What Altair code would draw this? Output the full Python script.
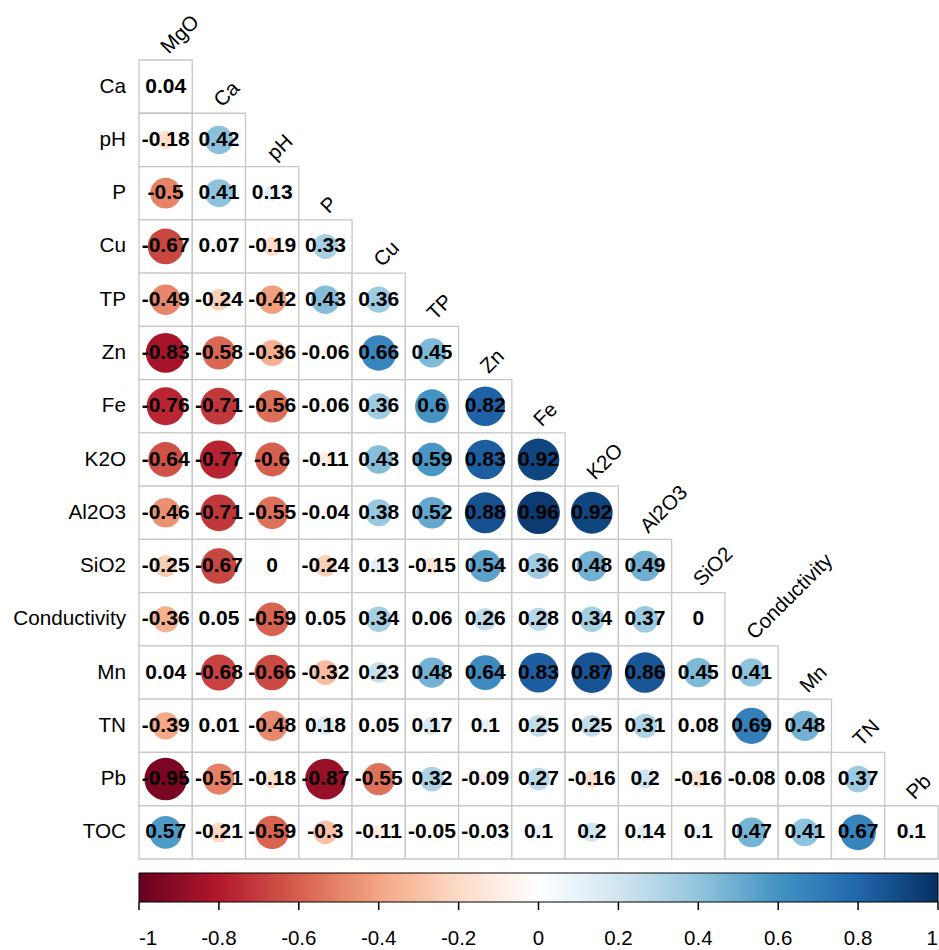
import altair as alt
import pandas as pd

# Variables of the lower-triangle correlation matrix
row_names = ["Ca", "pH", "P", "Cu", "TP", "Zn", "Fe", "K2O", "Al2O3", "SiO2",
             "Conductivity", "Mn", "TN", "Pb", "TOC"]
col_names = ["MgO", "Ca", "pH", "P", "Cu", "TP", "Zn", "Fe", "K2O", "Al2O3",
             "SiO2", "Conductivity", "Mn", "TN", "Pb"]

# Pearson coefficients, one list per row (columns in col_names order)
r_Ca = [0.04]
r_pH = [-0.18, 0.42]
r_P = [-0.5, 0.41, 0.13]
r_Cu = [-0.67, 0.07, -0.19, 0.33]
r_TP = [-0.49, -0.24, -0.42, 0.43, 0.36]
r_Zn = [-0.83, -0.58, -0.36, -0.06, 0.66, 0.45]
r_Fe = [-0.76, -0.71, -0.56, -0.06, 0.36, 0.6, 0.82]
r_K2O = [-0.64, -0.77, -0.6, -0.11, 0.43, 0.59, 0.83, 0.92]
r_Al2O3 = [-0.46, -0.71, -0.55, -0.04, 0.38, 0.52, 0.88, 0.96, 0.92]
r_SiO2 = [-0.25, -0.67, 0, -0.24, 0.13, -0.15, 0.54, 0.36, 0.48, 0.49]
r_Conductivity = [-0.36, 0.05, -0.59, 0.05, 0.34, 0.06, 0.26, 0.28, 0.34, 0.37, 0]
r_Mn = [0.04, -0.68, -0.66, -0.32, 0.23, 0.48, 0.64, 0.83, 0.87, 0.86, 0.45, 0.41]
r_TN = [-0.39, 0.01, -0.48, 0.18, 0.05, 0.17, 0.1, 0.25, 0.25, 0.31, 0.08, 0.69, 0.48]
r_Pb = [-0.95, -0.51, -0.18, -0.87, -0.55, 0.32, -0.09, 0.27, -0.16, 0.2, -0.16,
        -0.08, 0.08, 0.37]
r_TOC = [0.57, -0.21, -0.59, -0.3, -0.11, -0.05, -0.03, 0.1, 0.2, 0.14, 0.1, 0.47,
         0.41, 0.67, 0.1]

matrix_rows = [r_Ca, r_pH, r_P, r_Cu, r_TP, r_Zn, r_Fe, r_K2O, r_Al2O3, r_SiO2,
               r_Conductivity, r_Mn, r_TN, r_Pb, r_TOC]

# Colour bar tick values
bar_ticks = [-1, -0.8, -0.6, -0.4, -0.2, 0, 0.2, 0.4, 0.6, 0.8, 1]

# RdBu palette (corrplot style, white centre)
palette = ["#67001F", "#B2182B", "#D6604D", "#F4A582", "#FDDBC7", "#FFFFFF",
           "#D1E5F0", "#92C5DE", "#4393C3", "#2166AC", "#053061"]

FONT = "Liberation Sans"

cells = []
for ri, (rname, vals) in enumerate(zip(row_names, matrix_rows)):
    for ci, v in enumerate(vals):
        cells.append({"row": rname, "col": col_names[ci], "ri": ri, "ci": ci,
                      "r": v, "absr": abs(v), "label": f"{v:g}"})
cells_df = pd.DataFrame(cells)
rows_df = pd.DataFrame({"name": row_names, "ri": list(range(len(row_names)))})
cols_df = pd.DataFrame({"name": col_names, "ci": list(range(len(col_names)))})
ticks_df = pd.DataFrame({"t": bar_ticks})

n = len(row_names)
xs = alt.Scale(domain=[0, n], nice=False, zero=False)
ys = alt.Scale(domain=[0, n], nice=False, zero=False, reverse=True)
color_scale = alt.Scale(domain=bar_ticks, range=palette, interpolate="rgb")

base = alt.Chart(cells_df).transform_calculate(
    x0="datum.ci", x1="datum.ci + 1", y0="datum.ri", y1="datum.ri + 1",
    cx="datum.ci + 0.5", cy="datum.ri + 0.5",
)

grid = base.mark_rect(fill="white", stroke="#c8c8c8", strokeWidth=1.3).encode(
    x=alt.X("x0:Q", scale=xs, axis=None),
    x2="x1:Q",
    y=alt.Y("y0:Q", scale=ys, axis=None),
    y2="y1:Q",
)

# circle area proportional to |r|; nearly a full cell-width circle at |r| = 1
circles = base.mark_circle(opacity=1).encode(
    x=alt.X("cx:Q", scale=xs, axis=None),
    y=alt.Y("cy:Q", scale=ys, axis=None),
    size=alt.Size("absr:Q", scale=alt.Scale(domain=[0, 1], range=[0, 1900]), legend=None),
    color=alt.Color(
        "r:Q",
        scale=color_scale,
        legend=alt.Legend(
            orient="none", legendX=0, legendY=813, direction="horizontal",
            gradientLength=799, gradientThickness=29,
            gradientStrokeColor="black", gradientStrokeWidth=1,
            values=bar_ticks, labelExpr="toString(datum.value)",
            labelFont=FONT, labelFontSize=20.5, labelColor="black",
            labelAlign="center", labelOffset=27, labelOverlap=False,
            title=None, padding=0,
        ),
    ),
)

values = base.mark_text(font=FONT, fontSize=21, fontWeight="bold", color="black",
                        align="center", baseline="middle").encode(
    x=alt.X("cx:Q", scale=xs, axis=None),
    y=alt.Y("cy:Q", scale=ys, axis=None),
    text="label:N",
)

row_labels = alt.Chart(rows_df).transform_calculate(cy="datum.ri + 0.5").mark_text(
    font=FONT, fontSize=20.7, color="black", align="right", baseline="middle"
).encode(
    x=alt.value(-13),
    y=alt.Y("cy:Q", scale=ys, axis=None),
    text="name:N",
)

col_labels = alt.Chart(cols_df).transform_calculate(
    lx="datum.ci + 0.56", ly="datum.ci - 0.1"
).mark_text(
    font=FONT, fontSize=20.5, color="black", align="left", baseline="alphabetic", angle=315
).encode(
    x=alt.X("lx:Q", scale=xs, axis=None),
    y=alt.Y("ly:Q", scale=ys, axis=None),
    text="name:N",
)

bar_tick_marks = alt.Chart(ticks_df).mark_rule(color="black", strokeWidth=1.5).encode(
    x=alt.X("t:Q", scale=alt.Scale(domain=[-1, 1], nice=False, zero=False), axis=None),
    y=alt.value(842),
    y2=alt.value(850),
)

matrix = alt.layer(grid, circles, values, row_labels, col_labels)

chart = alt.layer(matrix, bar_tick_marks).resolve_scale(x="independent").properties(
    width=799,
    height=799,
    autosize=alt.AutoSizeParams(type="none"),
    padding={"left": 139, "top": 60, "right": 1, "bottom": 91},
    background="white",
).configure_view(strokeWidth=0)

chart.save("out.html", embed_options={"renderer": "svg", "actions": False})
